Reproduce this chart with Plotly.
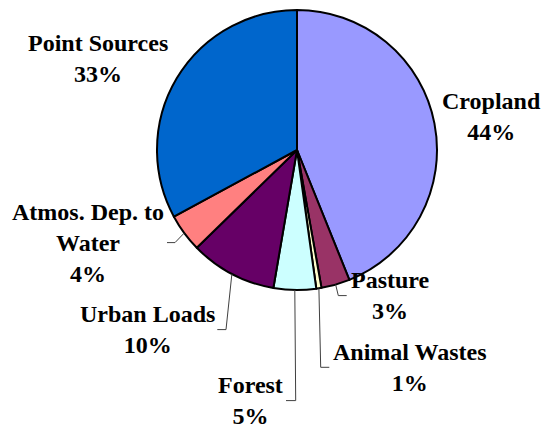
import math
import plotly.graph_objects as go

# ---- data ----
categories = ["Cropland", "Pasture", "Animal Wastes", "Forest", "Urban Loads",
              "Atmos. Dep. to<br>Water", "Point Sources"]
values = [43.9, 3.3, 0.6, 4.9, 10.0, 4.4, 32.9]
colors = ["#9999FF", "#993366", "#FFFFCC", "#CCFFFF", "#660066", "#FF8080", "#0066CC"]

# ---- layout (pixels in a 542x430 canvas) ----
W, H = 542, 430
CX, CY, R = 297, 150, 140
# label block centres (px)
label_xy = [(491, 116.6), (390, 295.6), (410, 367.3), (250.3, 400.6),
            (147, 329.6), (88, 242.6), (97.5, 58.3)]
# leader line: (elbow x, end x) or None
leaders = [None, (338.3, 346.7), (320.7, 329.3), (295.7, 286.0),
           (226.0, 217.3), (175.0, 167.0), None]

FONT = "Liberation Serif, Times New Roman, serif"

def px(x):
    return x / W

def py(y):
    return 1 - y / H

fig = go.Figure(go.Pie(
    labels=categories,
    values=values,
    sort=False,
    direction="clockwise",
    rotation=0,
    marker=dict(colors=colors, line=dict(color="black", width=2)),
    textinfo="none",
    hoverinfo="label+percent",
    domain=dict(x=[px(CX - R), px(CX + R)], y=[py(CY + R), py(CY - R)]),
    showlegend=False,
))

total = sum(values)
annotations = []
shapes = []
cum = 0.0
for cat, v, (lx, ly), ld in zip(categories, values, label_xy, leaders):
    pct = round(100 * v / total)
    annotations.append(dict(
        x=px(lx), y=py(ly), xref="paper", yref="paper",
        xanchor="center", yanchor="middle", showarrow=False,
        text=f"<b>{cat}<br>{pct}%</b>", align="center",
        font=dict(family=FONT, size=24, color="black"),
    ))
    mid = (cum + v / 2) / total * 2 * math.pi
    cum += v
    if ld is not None:
        sx = CX + R * math.sin(mid)
        sy = CY - R * math.cos(mid)
        ex, endx = ld
        path = f"M {px(sx)},{py(sy)} L {px(ex)},{py(ly)} L {px(endx)},{py(ly)}"
        shapes.append(dict(type="path", path=path, xref="paper", yref="paper",
                           line=dict(color="#404040", width=1)))

fig.update_layout(
    width=W, height=H,
    margin=dict(l=0, r=0, t=0, b=0),
    paper_bgcolor="white", plot_bgcolor="white",
    font=dict(family=FONT),
    annotations=annotations, shapes=shapes,
)

fig.write_html("out.html", config={"displayModeBar": False},
               post_script="document.body.style.margin='0';")
